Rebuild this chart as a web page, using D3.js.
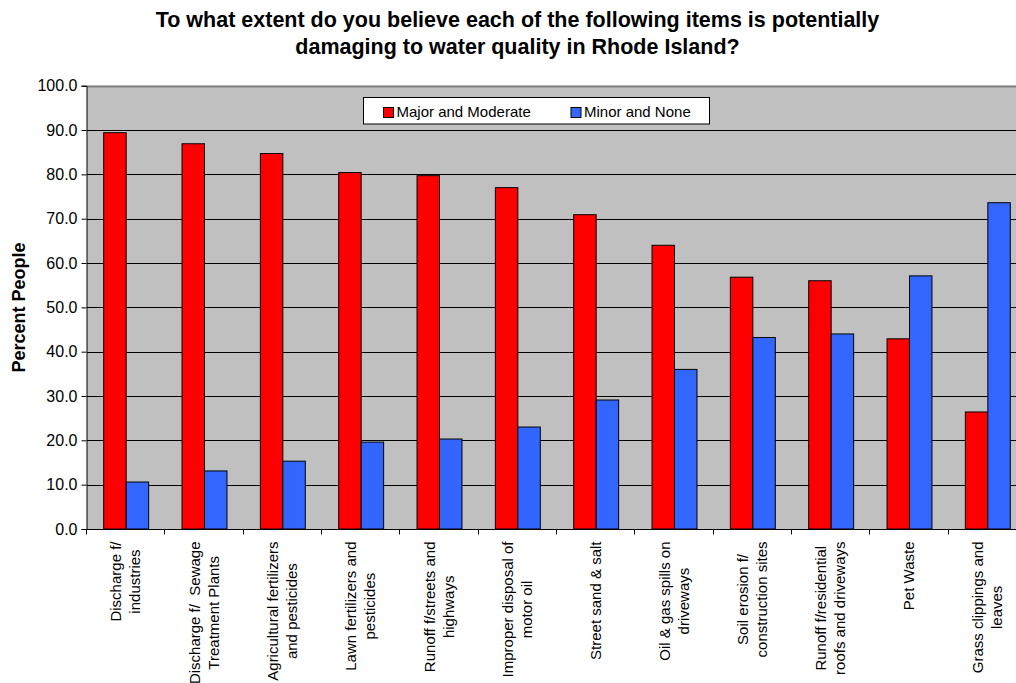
<!DOCTYPE html>
<html>
<head>
<meta charset="utf-8">
<script src="https://cdn.jsdelivr.net/npm/d3@7"></script>
<style>
  html, body { margin: 0; padding: 0; background: #fff; }
  svg { display: block; font-family: "Liberation Sans", Arial, sans-serif; }
</style>
</head>
<body>
<svg id="chart" width="1016" height="683"></svg>
<script>
// Survey categories (each label split into its display lines)
const categories = [
  "Discharge f/ industries",
  "Discharge f/ Sewage Treatment Plants",
  "Agricultural fertilizers and pesticides",
  "Lawn fertilizers and pesticides",
  "Runoff f/streets and highways",
  "Improper disposal of motor oil",
  "Street sand & salt",
  "Oil & gas spills on driveways",
  "Soil erosion f/ construction sites",
  "Runoff f/residential roofs and driveways",
  "Pet Waste",
  "Grass clippings and leaves"
];
const categoryLines = [
  ["Discharge f/", "industries"],
  ["Discharge f/  Sewage", "Treatment Plants"],
  ["Agricultural fertilizers", "and pesticides"],
  ["Lawn fertilizers and", "pesticides"],
  ["Runoff f/streets and", "highways"],
  ["Improper disposal of", "motor oil"],
  ["Street sand & salt"],
  ["Oil & gas spills on", "driveways"],
  ["Soil erosion f/", "construction sites"],
  ["Runoff f/residential", "roofs and driveways"],
  ["Pet Waste"],
  ["Grass clippings and", "leaves"]
];
const seriesNames = ["Major and Moderate", "Minor and None"];
const majorModerate = [89.4, 86.9, 84.7, 80.4, 79.7, 77.0, 70.9, 64.0, 56.8, 56.0, 42.9, 26.4];
const minorNone     = [10.6, 13.1, 15.3, 19.6, 20.3, 23.0, 29.1, 36.0, 43.2, 44.0, 57.1, 73.6];
const seriesColors = ["#FF0000", "#3366FF"];
const yTicks = [0, 10, 20, 30, 40, 50, 60, 70, 80, 90, 100];
const titleLines = [
  "To what extent do you believe each of the following items is potentially",
  "damaging to water quality in Rhode Island?"
];
const yAxisTitle = "Percent People";

const svg = d3.select("#chart");

// Plot area geometry (the plot runs past the right edge of the canvas)
const plot = { left: 87, right: 87 + 940, top: 85.7, bottom: 529 };

const x0 = d3.scaleBand().domain(categories).range([plot.left, plot.right]).padding(0);
const x1 = d3.scaleBand().domain(seriesNames)
  .range([16.7, x0.bandwidth() - 16.7]).padding(0);
const y = d3.scaleLinear().domain([0, 100]).range([plot.bottom, plot.top]);

// Title
svg.append("g").selectAll("text").data(titleLines).join("text")
  .attr("x", 517.5)
  .attr("y", (d, i) => 27 + i * 26.5)
  .attr("text-anchor", "middle")
  .attr("font-size", 21.5)
  .attr("font-weight", "bold")
  .attr("fill", "#000")
  .text(d => d);

// Plot background
svg.append("rect")
  .attr("x", plot.left).attr("y", y(100))
  .attr("width", plot.right - plot.left).attr("height", y(0) - y(100))
  .attr("fill", "#C0C0C0");

// Gridlines
svg.append("g").selectAll("line").data(yTicks.filter(t => t > 0 && t < 100)).join("line")
  .attr("x1", plot.left).attr("x2", plot.right)
  .attr("y1", d => Math.round(y(d)) + 0.5).attr("y2", d => Math.round(y(d)) + 0.5)
  .attr("stroke", "#000").attr("stroke-width", 1);

// Top border of plot area
svg.append("line")
  .attr("x1", plot.left).attr("x2", plot.right)
  .attr("y1", Math.round(y(100)) + 0.5).attr("y2", Math.round(y(100)) + 0.5)
  .attr("stroke", "#808080").attr("stroke-width", 2);

// Bars
const rows = categories.map((c, i) => ({ cat: c, vals: [majorModerate[i], minorNone[i]] }));
svg.append("g").selectAll("g").data(rows).join("g")
  .attr("transform", d => `translate(${x0(d.cat)},0)`)
  .selectAll("rect")
  .data(d => d.vals.map((v, j) => ({ name: seriesNames[j], v, color: seriesColors[j] })))
  .join("rect")
  .attr("x", d => x1(d.name))
  .attr("y", d => y(d.v))
  .attr("width", x1.bandwidth())
  .attr("height", d => y(0) - y(d.v))
  .attr("fill", d => d.color)
  .attr("stroke", "#000")
  .attr("stroke-width", 1);

// Y axis
const yAxis = d3.axisLeft(y).tickValues(yTicks).tickSize(5).tickPadding(4)
  .tickFormat(d3.format(".1f"));
const yg = svg.append("g")
  .attr("transform", `translate(${Math.round(plot.left) - 0.5},0)`)
  .call(yAxis);
yg.select(".domain").attr("stroke", "#000");
yg.selectAll(".tick line").attr("stroke", "#000");
yg.selectAll(".tick text")
  .attr("font-size", 16).attr("fill", "#000")
  .attr("font-family", "Liberation Sans, Arial, sans-serif");

// X axis (category ticks on band boundaries, labels drawn separately)
const xg = svg.append("g")
  .attr("transform", `translate(0,${Math.round(plot.bottom) + 0.5})`);
xg.append("line")
  .attr("x1", plot.left).attr("x2", plot.right)
  .attr("stroke", "#000");
xg.selectAll("line.tk").data(d3.range(categories.length + 1)).join("line")
  .attr("class", "tk")
  .attr("x1", i => Math.round(plot.left + i * x0.step()) - 0.5)
  .attr("x2", i => Math.round(plot.left + i * x0.step()) - 0.5)
  .attr("y1", 0).attr("y2", 5)
  .attr("stroke", "#000");

// Rotated, multi-line category labels
const lineGap = 19;
const labelG = svg.append("g").selectAll("g").data(categories).join("g")
  .attr("transform", d => `translate(${x0(d) + x0.bandwidth() / 2},541.5) rotate(-90)`);
labelG.each(function (d, i) {
  const g = d3.select(this);
  const lines = categoryLines[i];
  const texts = g.selectAll("text").data(lines).join("text")
    .attr("font-size", 15)
    .attr("fill", "#000")
    .attr("text-anchor", "middle")
    .attr("y", (t, k) => (k - (lines.length - 1) / 2) * lineGap + 4.5)
    .style("white-space", "pre")
    .text(t => t);
  let maxLen = 0;
  texts.each(function () { maxLen = Math.max(maxLen, this.getComputedTextLength()); });
  texts.attr("x", -maxLen / 2);
});

// Y axis title
svg.append("text")
  .attr("transform", `translate(24.5,${307.5}) rotate(-90)`)
  .attr("text-anchor", "middle")
  .attr("font-size", 18)
  .attr("font-weight", "bold")
  .attr("fill", "#000")
  .text(yAxisTitle);

// Legend
const legend = svg.append("g");
legend.append("rect")
  .attr("x", 363.5).attr("y", 97.5).attr("width", 346).attr("height", 26.5)
  .attr("fill", "#fff").attr("stroke", "#000").attr("stroke-width", 1);
const legendX = [383.5, 571];
const items = legend.selectAll("g").data(seriesNames).join("g")
  .attr("transform", (d, i) => `translate(${legendX[i]},0)`);
items.append("rect")
  .attr("x", 0).attr("y", 107.5).attr("width", 10).attr("height", 10)
  .attr("fill", (d, i) => seriesColors[i])
  .attr("stroke", "#000").attr("stroke-width", 1);
items.append("text")
  .attr("x", 13).attr("y", 117)
  .attr("font-size", 15)
  .attr("fill", "#000")
  .text(d => d);
</script>
</body>
</html>
